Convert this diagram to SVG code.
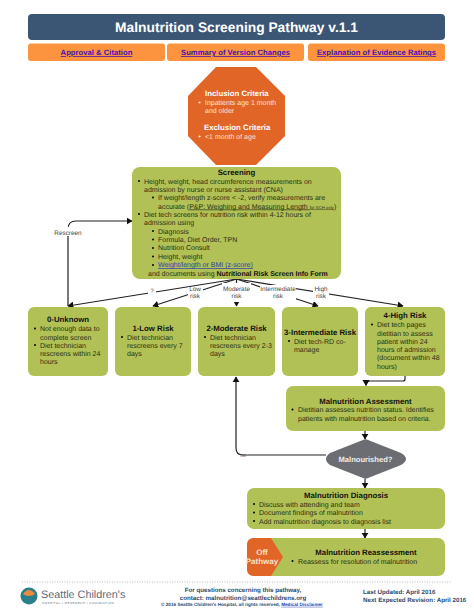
<svg xmlns="http://www.w3.org/2000/svg" width="474" height="613" viewBox="0 0 474 613">
<style>
text{font-family:"Liberation Sans",Arial,sans-serif;font-size:7px;fill:#2b2f12;text-rendering:geometricPrecision}
.b{font-weight:bold}
.h{font-weight:bold;font-size:7.800px;fill:#111;text-anchor:middle}
.box{fill:#b2c155}
.link{font-weight:bold;font-size:7.700px;fill:#4a12b0;text-anchor:middle;text-decoration:underline}
.w{fill:#fbe3d2}
.wb{fill:#fff;font-weight:bold;font-size:7.800px}
.lab{font-size:6.400px;fill:#444;text-anchor:middle}
.c{fill:none;stroke:#222;stroke-width:1.200}
.ft{fill:#2d4a6e;font-weight:bold;font-size:6.200px}
</style>
<defs><marker id="a" markerWidth="6" markerHeight="6" refX="4.500" refY="3" orient="auto"><path d="M0 0L5 3L0 6z" fill="#111"/></marker></defs>
<g id="title"><rect x="28" y="14" width="417" height="26" rx="4" fill="#3b5675"/><text x="236.500" y="32" text-anchor="middle" style="font-size:13.800px;font-weight:bold;fill:#fff">Malnutrition Screening Pathway v.1.1</text></g>
<g id="tab1"><rect x="28" y="43.500" width="137" height="17.500" rx="3" fill="#fb933f"/><text class="link" x="96.500" y="55">Approval &amp; Citation</text></g>
<g id="tab2"><rect x="167" y="43.500" width="137" height="17.500" rx="3" fill="#fb933f"/><text class="link" x="235.500" y="55">Summary of Version Changes</text></g>
<g id="tab3"><rect x="308" y="43.500" width="137" height="17.500" rx="3" fill="#fb933f"/><text class="link" x="376.500" y="55">Explanation of Evidence Ratings</text></g>
<g id="criteria"><path d="M216 67H256L285 96V136L256 165H216L188 136V96Z" fill="#e06526"/>
<text class="wb" x="205" y="96">Inclusion Criteria</text>
<circle cx="199.500" cy="102.500" r="1.100" fill="#fbe3d2"/><text class="w" x="205" y="105">Inpatients age 1 month</text><text class="w" x="205" y="113">and older</text>
<text class="wb" x="204" y="130">Exclusion Criteria</text>
<circle cx="199.500" cy="136.500" r="1.100" fill="#fbe3d2"/><text class="w" x="205" y="139">&lt;1 month of age</text></g>
<g id="connectors">
<path class="c" d="M236.500 279L68 306" marker-end="url(#a)"/>
<path class="c" d="M236.500 279L153 306" marker-end="url(#a)"/>
<path class="c" d="M236.500 279V306" marker-end="url(#a)"/>
<path class="c" d="M236.500 279L318 306" marker-end="url(#a)"/>
<path class="c" d="M236.500 279L403 306" marker-end="url(#a)"/>
<path class="c" d="M68 306V229Q68 221 76 221H132" marker-end="url(#a)"/>
<path class="c" d="M405 376V379Q405 381 403 381H370Q366 381 366 385.500" marker-end="url(#a)"/>
<path class="c" d="M365 431V439" marker-end="url(#a)"/>
<path class="c" d="M326 455H243Q236 455 236 448V377" marker-end="url(#a)"/>
<path class="c" d="M365 479V488" marker-end="url(#a)"/>
<path class="c" d="M365 529V538" marker-end="url(#a)"/>
</g>
<g id="labels">
<g fill="#fff"><rect x="53" y="227" width="30" height="9"/><rect x="148" y="288" width="8" height="7"/><rect x="188" y="287" width="15" height="13"/><rect x="222" y="283" width="29" height="19"/><rect x="260" y="285" width="36" height="17"/><rect x="313" y="284" width="16" height="18"/></g>
<text class="lab" x="68" y="235">Rescreen</text><text class="lab" x="152" y="293">?</text>
<text class="lab" x="195" y="291">Low</text><text class="lab" x="195" y="298">risk</text>
<text class="lab" x="236.500" y="291">Moderate</text><text class="lab" x="236.500" y="298">risk</text>
<text class="lab" x="278" y="291">Intermediate</text><text class="lab" x="278" y="298">risk</text>
<text class="lab" x="321" y="291">High</text><text class="lab" x="321" y="298">risk</text>
</g>
<g id="screening"><rect x="132" y="167" width="209" height="112" rx="8" class="box"/>
<text class="h" x="236.500" y="175">Screening</text>
<g><circle cx="139" cy="181" r="1"/><circle cx="153" cy="197.500" r="1"/><circle cx="139" cy="214" r="1"/><circle cx="153" cy="231" r="1"/><circle cx="153" cy="239.500" r="1"/><circle cx="153" cy="248" r="1"/><circle cx="153" cy="256.500" r="1"/><circle cx="153" cy="265" r="1"/></g>
<text x="144" y="183.500">Height, weight, head circumference measurements on</text>
<text x="144" y="191.500">admission by nurse or nurse assistant (CNA)</text>
<text x="158" y="200">If weight/length z-score &lt; -2, verify measurements are</text>
<text x="158" y="208.500">accurate (<tspan text-decoration="underline">P&amp;P: Weighing and Measuring Length <tspan font-size="4.300">for SCH only</tspan></tspan>)</text>
<text x="144" y="216.500">Diet tech screens for nutrition risk within 4-12 hours of</text>
<text x="144" y="225">admission using</text>
<text x="158" y="233.500">Diagnosis</text>
<text x="158" y="242">Formula, Diet Order, TPN</text>
<text x="158" y="250">Nutrition Consult</text>
<text x="158" y="258.500">Height, weight</text>
<text x="158" y="267" style="fill:#2a3fb0;text-decoration:underline">Weight/length or BMI (z-score)</text>
<text x="148" y="276">and documents using <tspan class="b" fill="#111">Nutritional Risk Screen Info Form</tspan></text>
</g>
<g id="unknown"><rect x="28" y="307" width="80" height="69" rx="6" class="box"/><text class="h" x="68" y="322">0-Unknown</text>
<circle cx="35" cy="328.500" r="1"/><circle cx="35" cy="345" r="1"/>
<text x="40" y="331">Not enough data to</text><text x="40" y="339.500">complete screen</text><text x="40" y="347.500">Diet technician</text><text x="40" y="356">rescreens within 24</text><text x="40" y="364">hours</text></g>
<g id="low"><rect x="115" y="307" width="76" height="69" rx="6" class="box"/><text class="h" x="153" y="331">1-Low Risk</text>
<circle cx="122" cy="337" r="1"/><text x="127" y="339.500">Diet technician</text><text x="127" y="348">rescreens every 7</text><text x="127" y="356">days</text></g>
<g id="moderate"><rect x="198" y="307" width="77" height="69" rx="6" class="box"/><text class="h" x="236.500" y="331">2-Moderate Risk</text>
<circle cx="205" cy="337" r="1"/><text x="210" y="339.500">Diet technician</text><text x="210" y="348">rescreens every 2-3</text><text x="210" y="356">days</text></g>
<g id="intermediate"><rect x="282" y="307" width="76" height="69" rx="6" class="box"/><text class="h" x="320" y="335">3-Intermediate Risk</text>
<circle cx="289" cy="341" r="1"/><text x="294" y="343.500">Diet tech-RD co-</text><text x="294" y="352">manage</text></g>
<g id="high"><rect x="365" y="307" width="80" height="69" rx="6" class="box"/><text class="h" x="405" y="318">4-High Risk</text>
<circle cx="372" cy="324.500" r="1"/><text x="377" y="327">Diet tech pages</text><text x="377" y="335.500">dietitian to assess</text><text x="377" y="343.500">patient within 24</text><text x="377" y="352">hours of admission</text><text x="377" y="360">(document within 48</text><text x="377" y="368.500">hours)</text></g>
<g id="assessment"><rect x="286" y="386" width="159" height="45" rx="7" class="box"/><text class="h" x="365.500" y="403.500">Malnutrition Assessment</text>
<circle cx="292.500" cy="409.500" r="1"/><text x="298" y="412">Dietitian assesses nutrition status. Identifies</text><text x="298" y="420.500">patients with malnutrition based on criteria.</text></g>
<g id="decision"><path d="M365.500 439L401 453Q406 456 406 459Q406 462 401 465L365.500 479L330 465Q326 462 326 459Q326 456 330 453Z" fill="#6b6d72"/><text x="365.500" y="462" text-anchor="middle" style="font-size:7.600px;font-weight:bold;fill:#eee">Malnourished?</text></g>
<text x="243" y="457" text-anchor="middle" style="font-size:5px;fill:#444">no</text>
<g id="diagnosis"><rect x="247" y="488" width="198" height="41" rx="7" class="box"/><text class="h" x="346" y="498">Malnutrition Diagnosis</text>
<circle cx="254" cy="504" r="1"/><circle cx="254" cy="512.500" r="1"/><circle cx="254" cy="521" r="1"/>
<text x="259" y="506.500">Discuss with attending and team</text><text x="259" y="515">Document findings of malnutrition</text><text x="259" y="523.500">Add malnutrition diagnosis to diagnosis list</text></g>
<g id="reassessment"><rect x="247" y="538" width="198" height="38" rx="7" class="box"/><path d="M254 538H271L283 557L271 576H254Q247 576 247 569V545Q247 538 254 538Z" fill="#e06526"/>
<text x="262" y="555" text-anchor="middle" style="font-weight:bold;font-size:8px;fill:#fbe3d2">Off</text><text x="262" y="564" text-anchor="middle" style="font-weight:bold;font-size:8px;fill:#fbe3d2">Pathway</text>
<text class="h" x="366" y="555">Malnutrition Reassessment</text>
<circle cx="292.500" cy="561" r="1"/><text x="298" y="563.500">Reassess for resolution of malnutrition</text></g>
<g id="footer"><path d="M22 582H452" stroke="#bbb" stroke-width="1" stroke-dasharray="1 1.500"/>
<circle cx="29" cy="596" r="8.500" fill="#2b7f8c"/><path d="M23 594Q29 586 35 594Q29 598 23 594Z" fill="#ee8a3c"/>
<text x="41" y="598" style="font-size:10.800px;fill:#5d6b78">Seattle Children's</text>
<text x="42" y="603.500" style="font-size:3px;fill:#5d6b78;letter-spacing:.5px">HOSPITAL • RESEARCH • FOUNDATION</text>
<text class="ft" x="243" y="592" text-anchor="middle">For questions concerning this pathway,</text>
<text class="ft" x="243" y="599.500" text-anchor="middle">contact: malnutrition@seattlechildrens.org</text>
<text x="242" y="605.800" text-anchor="middle" style="font-size:4.650px;font-weight:bold;fill:#2d4a6e">© 2016 Seattle Children's Hospital, all rights reserved, <tspan fill="#2a3fb0" text-decoration="underline">Medical Disclaimer</tspan></text>
<text class="ft" x="363" y="594">Last Updated: April 2016</text>
<text class="ft" x="363" y="601.500">Next Expected Revision: April 2016</text></g>
</svg>
